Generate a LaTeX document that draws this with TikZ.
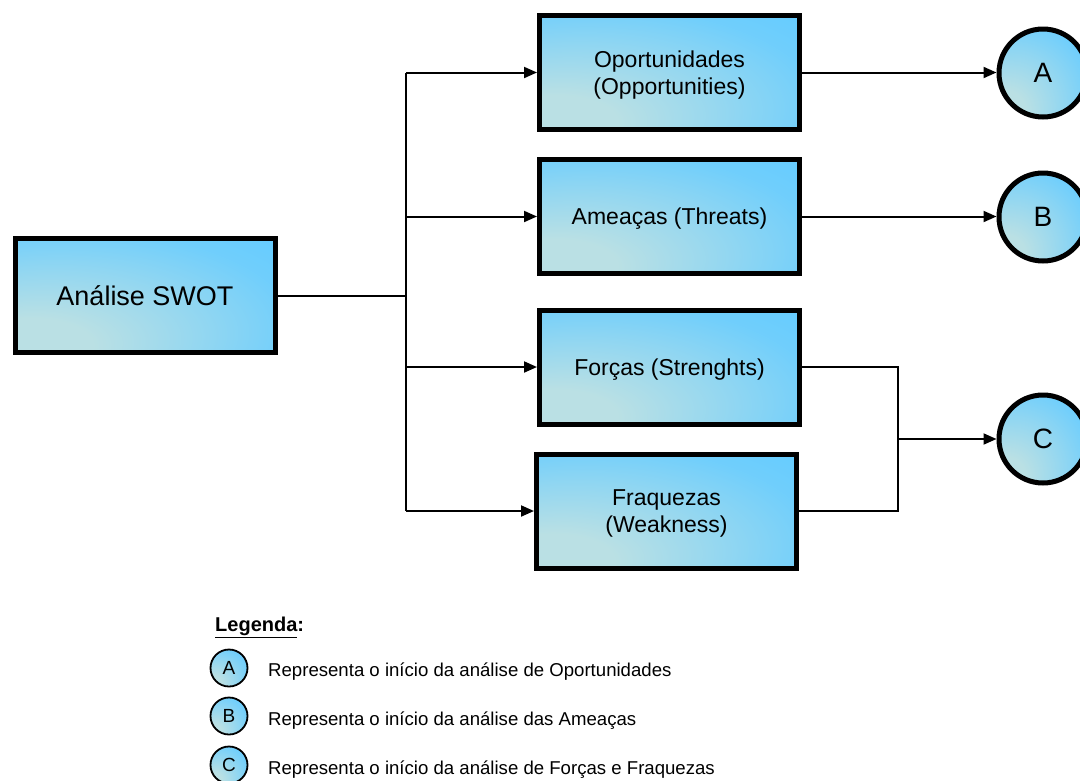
\documentclass[tikz,border=0pt]{standalone}
\usepackage{fontspec}
\setmainfont{Liberation Sans}
\usetikzlibrary{arrows.meta}
\definecolor{paleblue}{HTML}{BAE0E4}
\definecolor{skyblue}{HTML}{66CCFF}
% fill that is pale in the lower left corner and sky blue everywhere else
\pgfdeclareradialshading{swotfill}{\pgfpoint{-25bp}{-25bp}}{
  color(0bp)=(paleblue); color(12bp)=(paleblue);
  color(30bp)=(skyblue!50!paleblue); color(43bp)=(skyblue!88!paleblue);
  color(52bp)=(skyblue); color(100bp)=(skyblue)}
\begin{document}
\begin{tikzpicture}[x=1pt,y=-1pt,
  fillgrad/.style={shading=swotfill},
  stepbox/.style={draw=black, line width=5pt, fillgrad, minimum width=260pt,
    minimum height=114pt, align=center, text depth=0pt,
    font=\fontsize{23}{27}\selectfont, inner sep=0pt},
  mark circle/.style={circle, draw=black, line width=5pt, fillgrad, minimum size=88pt,
    inner sep=0pt, font=\fontsize{28}{30}\selectfont},
  key circle/.style={circle, draw=black, line width=1.8pt, fillgrad, minimum size=37pt,
    inner sep=0pt, font=\fontsize{19}{20}\selectfont},
  link/.style={line width=2pt},
  arrowlink/.style={link, -{Triangle[length=13pt,width=11pt]}},
  keytext/.style={anchor=west, inner sep=0pt, font=\fontsize{18.6}{20}\selectfont}]
\useasboundingbox (0,0) rectangle (1080,780);

% main boxes
\node[stepbox, font=\fontsize{27}{30}\selectfont] (swot) at (145,295.5) {Análise SWOT};
\node[stepbox] (opp) at (669.5,72.5) {Oportunidades\\(Opportunities)};
\node[stepbox] (thr) at (669.5,216.5) {Ameaças (Threats)};
\node[stepbox] (str) at (669.5,367) {Forças (Strenghts)};
\node[stepbox] (wea) at (666.5,511) {Fraquezas\\(Weakness)};

% connector markers
\node[mark circle] (ca) at (1043,73) {A};
\node[mark circle] (cb) at (1043,217) {B};
\node[mark circle] (cc) at (1043,439) {C};

% branching from the analysis box
\coordinate (split) at (406,295.5);
\draw[link] (swot.east) -- (split);
\draw[link] (406,72.5) -- (406,511);
\draw[arrowlink] (406,72.5) -- (opp.west);
\draw[arrowlink] (406,216.5) -- (thr.west);
\draw[arrowlink] (406,367) -- (str.west);
\draw[arrowlink] (406,511) -- (wea.west);

% links to the markers
\draw[arrowlink] (opp.east) -- (ca.west |- opp.east);
\draw[arrowlink] (thr.east) -- (cb.west |- thr.east);
\coordinate (join) at (898,439);
\draw[link] (str.east) -| (join);
\draw[link] (wea.east) -| (join);
\draw[arrowlink] (join) -- (cc.west);

% legend
\node[anchor=west, inner sep=0pt, font=\bfseries\fontsize{20}{22}\selectfont] (leg) at (215,627) {\underline{Legenda}:};
\node[key circle] (ka) at (229,668) {A};
\node[key circle] (kb) at (229,716) {B};
\node[key circle] (kc) at (229,765) {C};
\node[keytext] (ta) at (268,672) {Representa o início da análise de Oportunidades};
\node[keytext] (tb) at (268,721) {Representa o início da análise das Ameaças};
\node[keytext] (tc) at (268,770) {Representa o início da análise de Forças e Fraquezas};
\end{tikzpicture}
\end{document}
